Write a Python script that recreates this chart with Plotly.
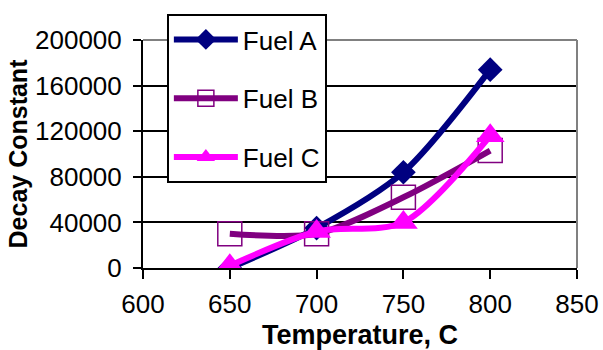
import plotly.graph_objects as go

temps = [650, 700, 750, 800]
fuel_a = [0, 35000, 84000, 174000]
fuel_b = [30000, 30000, 62000, 103000]
fuel_c = [2000, 32000, 40000, 116000]
x_ticks = [600, 650, 700, 750, 800, 850]
y_ticks = [0, 40000, 80000, 120000, 160000, 200000]

FONT = "Liberation Sans, Arial, sans-serif"

fig = go.Figure()
fig.add_trace(go.Scatter(
    x=temps, y=fuel_a, name="Fuel A", mode="lines+markers", legendgroup="a",
    line=dict(color="#000080", width=6, shape="spline", smoothing=0.8),
    marker=dict(symbol="diamond", size=19, color="#000080")))
fig.add_trace(go.Scatter(
    x=temps, y=fuel_b, name="Fuel B", mode="lines+markers", legendgroup="b",
    line=dict(color="#800080", width=6, shape="spline", smoothing=0.8),
    marker=dict(symbol="square-open", size=24, color="#800080", line=dict(width=1.5, color="#800080"))))
fig.add_trace(go.Scatter(
    x=temps, y=fuel_c, name="Fuel C", mode="lines+markers", legendgroup="c",
    line=dict(color="#FF00FF", width=6, shape="spline", smoothing=0.8),
    marker=dict(symbol="triangle-up", size=25, color="#FF00FF")))

fig.update_layout(
    width=603, height=350,
    margin=dict(l=143, r=26, t=40, b=82, autoexpand=False),
    paper_bgcolor="white", plot_bgcolor="white",
    font=dict(family=FONT, size=26, color="black"),
    showlegend=True,
    legend=dict(
        x=0.055, y=1.114, xanchor="left", yanchor="top",
        bgcolor="white", bordercolor="black", borderwidth=2,
        font=dict(size=26), tracegroupgap=22, itemwidth=64,
    ),
    xaxis=dict(
        range=[600, 850], tickvals=x_ticks, showgrid=False,
        showline=True, linecolor="black", linewidth=2,
        ticks="outside", ticklen=9, tickwidth=2, tickcolor="black",
        ticklabelstandoff=3, automargin=False,
        title=dict(text="<b>Temperature, C</b>", font=dict(size=27), standoff=7),
        zeroline=False,
    ),
    yaxis=dict(
        range=[0, 200000], tickvals=y_ticks, tickformat="d",
        showgrid=True, gridcolor="black", gridwidth=1.5,
        showline=True, linecolor="black", linewidth=2,
        ticks="outside", ticklen=8, tickwidth=2, tickcolor="black",
        ticklabelstandoff=6, automargin=False,
        title=dict(text="<b>Decay Constant</b>", font=dict(size=25), standoff=0),
        zeroline=False,
    ),
)
fig.add_shape(type="line", xref="paper", yref="paper", x0=0, x1=1, y0=1, y1=1,
              line=dict(color="#808080", width=2), layer="above")
fig.add_shape(type="line", xref="paper", yref="paper", x0=1, x1=1, y0=0, y1=1,
              line=dict(color="#808080", width=2), layer="above")

fig.write_html("out.html")
